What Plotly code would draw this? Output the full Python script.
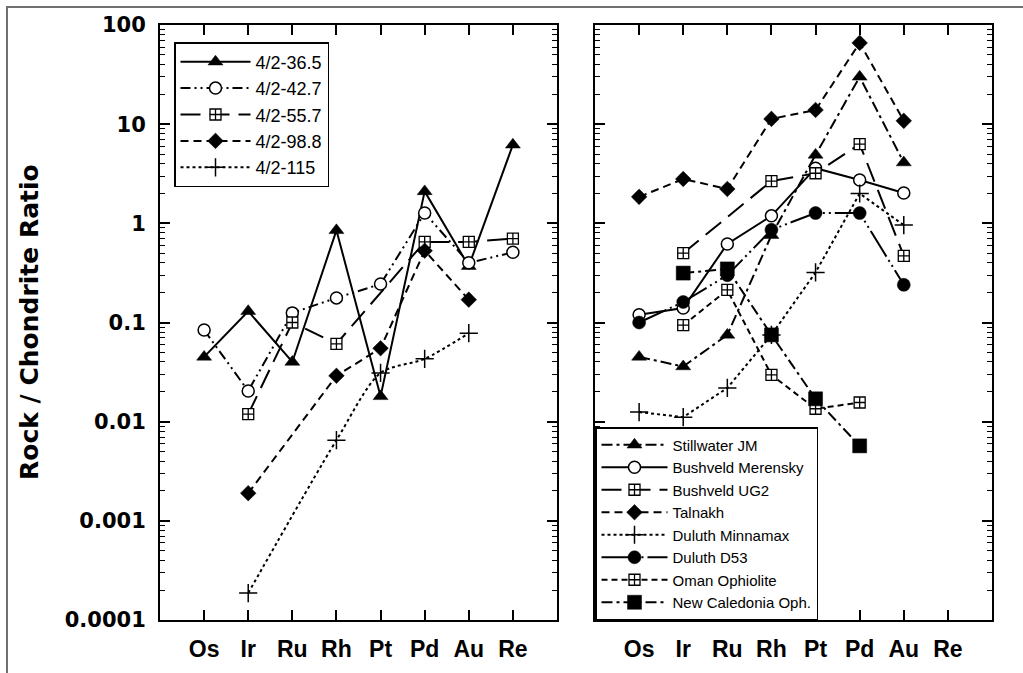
import plotly.graph_objects as go

categories = ["Os", "Ir", "Ru", "Rh", "Pt", "Pd", "Au", "Re"]
ytick_vals = [0.0001, 0.001, 0.01, 0.1, 1, 10, 100]
ytick_text = ["0.0001", "0.001", "0.01", "0.1", "1", "10", "100"]

# Left panel samples
s_36_5 = [0.045, 0.13, 0.04, 0.85, 0.018, 2.1, 0.37, 6.2]
s_42_7 = [0.084, 0.0204, 0.125, 0.177, 0.244, 1.27, 0.40, 0.51]
s_55_7 = [None, 0.0119, 0.10, 0.061, None, 0.65, 0.65, 0.70]
s_98_8 = [None, 0.0019, None, 0.029, 0.055, 0.53, 0.17, None]
s_115 = [None, 0.000187, None, 0.0065, 0.031, 0.043, 0.078, None]

# Right panel deposits
stillwater = [0.045, 0.036, 0.075, 0.76, 4.9, 30, 4.1, None]
merensky = [0.12, 0.14, 0.62, 1.19, 3.6, 2.74, 2.02, None]
ug2 = [None, 0.50, None, 2.67, 3.2, 6.3, 0.47, None]
talnakh = [1.85, 2.8, 2.22, 11.3, 13.9, 66, 10.8, None]
minnamax = [0.0125, 0.0111, 0.0219, 0.075, 0.32, 2.0, 0.96, None]
d53 = [0.10, 0.161, 0.30, 0.86, 1.27, 1.27, 0.24, None]
oman = [None, 0.094, 0.213, 0.0296, 0.0135, 0.0156, None, None]
newcal = [None, 0.315, 0.347, 0.075, 0.017, 0.0057, None, None]

left_names = ["4/2-36.5", "4/2-42.7", "4/2-55.7", "4/2-98.8", "4/2-115"]
right_names = ["Stillwater JM", "Bushveld Merensky", "Bushveld UG2", "Talnakh",
               "Duluth Minnamax", "Duluth D53", "Oman Ophiolite", "New Caledonia Oph."]

BLK = "black"
W, H = 1023, 673
ML, MR, MT, MB = 160, W - 992, 25, H - 620
PW, PH = W - ML - MR, H - MT - MB


def px_x(p):
    return (p - ML) / PW


def px_y(p):
    return (H - MB - p) / PH


def mk(symbol, size, fill, lw=1.5):
    return dict(symbol=symbol, size=size, color=fill, line=dict(color=BLK, width=lw))


tri = mk("triangle-up", 13, BLK, 0.5)
ocirc = mk("circle", 12, "white", 1.5)
sqx = mk("square-cross", 11, "white", 1.3)
dia = mk("diamond", 12, BLK, 0.5)
plus = mk("cross-thin", 13, BLK, 1.5)
fcirc = mk("circle", 13, BLK, 0.5)
fsq = mk("square", 14, BLK, 0.5)

DASHDOT = "11px,4px,3px,4px"
DASHDOTDOT = "10px,4px,2px,4px,2px,4px"
LONGDASH = "20px,9px"
MEDDASH = "8px,5px"
SHORTDASH = "6px,4px"
DOT = "3px,3px"
D53DASH = "30px,4px,2px,4px,2px,4px"

fig = go.Figure()

left_specs = [
    (s_36_5, "solid", tri, "linear"),
    (s_42_7, DASHDOTDOT, ocirc, "linear"),
    (s_55_7, LONGDASH, sqx, "linear"),
    (s_98_8, MEDDASH, dia, "linear"),
    (s_115, DOT, plus, "spline"),
]
for name, (vals, dash, marker, shape) in zip(left_names, left_specs):
    fig.add_trace(go.Scatter(
        x=categories, y=vals, name=name, mode="lines+markers",
        line=dict(color=BLK, width=2, dash=dash, shape=shape, smoothing=0.8),
        marker=marker, connectgaps=True, xaxis="x", yaxis="y", legend="legend",
    ))

right_specs = [
    (stillwater, DASHDOT, tri),
    (merensky, "solid", ocirc),
    (ug2, LONGDASH, sqx),
    (talnakh, MEDDASH, dia),
    (minnamax, DOT, plus),
    (d53, D53DASH, fcirc),
    (oman, SHORTDASH, sqx),
    (newcal, DASHDOT, fsq),
]
for name, (vals, dash, marker) in zip(right_names, right_specs):
    fig.add_trace(go.Scatter(
        x=categories, y=vals, name=name, mode="lines+markers",
        line=dict(color=BLK, width=2, dash=dash),
        marker=marker, connectgaps=True, xaxis="x2", yaxis="y2", legend="legend2",
    ))


def xaxis_cfg(domain, anchor):
    return dict(
        domain=domain, anchor=anchor, type="category", categoryorder="array",
        categoryarray=categories, range=[-1, 8], automargin=False,
        showline=True, linecolor=BLK, linewidth=2, mirror="ticks",
        ticks="inside", ticklen=10, tickwidth=1.5, tickcolor=BLK,
        showgrid=False, zeroline=False, ticklabelstandoff=7,
        tickfont=dict(family="Liberation Sans, Arial, sans-serif", size=23, color=BLK, weight="bold"),
    )


def yaxis_cfg(anchor, labels):
    return dict(
        domain=[0, 1], anchor=anchor, type="log", range=[-4, 2], automargin=False,
        tickmode="array", tickvals=ytick_vals, ticktext=ytick_text,
        showticklabels=labels,
        showline=True, linecolor=BLK, linewidth=2, mirror="ticks",
        ticks="inside", ticklen=10, tickwidth=1.5, tickcolor=BLK,
        minor=dict(ticks="inside", ticklen=5, tickwidth=1.2, tickcolor=BLK,
                   dtick="D1", showgrid=False),
        showgrid=False, zeroline=False, ticklabelstandoff=8,
        tickfont=dict(family="DejaVu Sans, Arial, sans-serif", size=21, color=BLK, weight="bold"),
    )


fig.update_layout(
    width=W, height=H, autosize=False,
    margin=dict(l=ML, r=MR, t=MT, b=MB, pad=0, autoexpand=False),
    paper_bgcolor="white", plot_bgcolor="white",
    xaxis=xaxis_cfg([0, px_x(557)], "y"),
    yaxis=yaxis_cfg("x", True),
    xaxis2=xaxis_cfg([px_x(595), 1], "y2"),
    yaxis2=yaxis_cfg("x2", False),
    legend=dict(
        x=px_x(174), y=px_y(42), xanchor="left", yanchor="top",
        bgcolor="white", bordercolor=BLK, borderwidth=1.5,
        font=dict(family="Liberation Sans, Arial, sans-serif", size=18, color=BLK),
        itemwidth=70, tracegroupgap=0,
    ),
    legend2=dict(
        x=px_x(595), y=px_y(620), xanchor="left", yanchor="bottom",
        bgcolor="white", bordercolor=BLK, borderwidth=1.5,
        font=dict(family="Liberation Sans, Arial, sans-serif", size=15, color=BLK),
        itemwidth=66, tracegroupgap=0,
    ),
    showlegend=True,
    annotations=[dict(
        text="Rock / Chondrite Ratio", xref="paper", yref="paper",
        x=px_x(29), y=px_y(322), xanchor="center", yanchor="middle",
        textangle=-90, showarrow=False,
        font=dict(family="DejaVu Sans, Arial, sans-serif", size=25, color=BLK, weight="bold"),
    )],
    shapes=[
        dict(type="line", xref="paper", yref="paper", x0=px_x(6), x1=px_x(1023),
             y0=px_y(7), y1=px_y(7), line=dict(color="#707070", width=2)),
        dict(type="line", xref="paper", yref="paper", x0=px_x(7), x1=px_x(7),
             y0=px_y(673), y1=px_y(7), line=dict(color="#707070", width=2)),
    ],
)

fig.write_html("out.html", config={"displayModeBar": False},
               post_script="document.body.style.margin='0';")
